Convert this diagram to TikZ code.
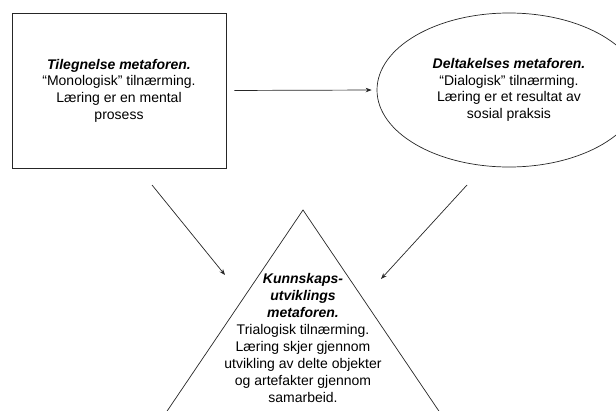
\documentclass[tikz,border=0pt]{standalone}
\usepackage{fontspec}
\setmainfont{Liberation Sans}
\usetikzlibrary{arrows.meta,positioning,shapes.geometric}

\begin{document}
\begin{tikzpicture}[x=1pt,y=-1pt,>={Stealth[length=6pt,width=4.5pt]},
                    line width=0.7pt,draw=black!85,
                    every node/.style={align=center,font=\fontsize{14}{16.7}\selectfont},
                    metabox/.style={draw,minimum width=214pt,minimum height=155pt},
                    metaell/.style={draw,ellipse,minimum width=264pt,minimum height=154pt}]
  \useasboundingbox (0,0) rectangle (616,410);
  \clip (0,0) rectangle (616,410);
  \node[metabox] (tileg) at (119,90.5)
    {\textbf{\textit{Tilegnelse metaforen.}}\\“Monologisk” tilnærming.\\Læring er en mental\\prosess};
  \node[metaell] (delt) at (509,90)
    {\textbf{\textit{Deltakelses metaforen.}}\\“Dialogisk” tilnærming.\\Læring er et resultat av\\sosial praksis};
  % triangle, cut off at the bottom
  \coordinate (top) at (303,210);
  \draw (157,426) -- (top) -- (449,426);
  \node[font=\fontsize{14}{17.1}\selectfont] (kunn) at (303,338)
    {\textbf{\textit{Kunnskaps-}}\\\textbf{\textit{utviklings}}\\\textbf{\textit{metaforen.}}\\Trialogisk tilnærming.\\Læring skjer gjennom\\utvikling av delte objekter\\og artefakter gjennom\\samarbeid.};
  \coordinate (a1) at (152,185);
  \coordinate (a2) at (225,275);
  \coordinate (b1) at (467,185);
  \coordinate (b2) at (381,279);
  \draw[->,shorten <=8pt,shorten >=5pt] (tileg.east) -- (delt.west);
  \draw[->] (a1) -- (a2);
  \draw[->] (b1) -- (b2);
\end{tikzpicture}
\end{document}
